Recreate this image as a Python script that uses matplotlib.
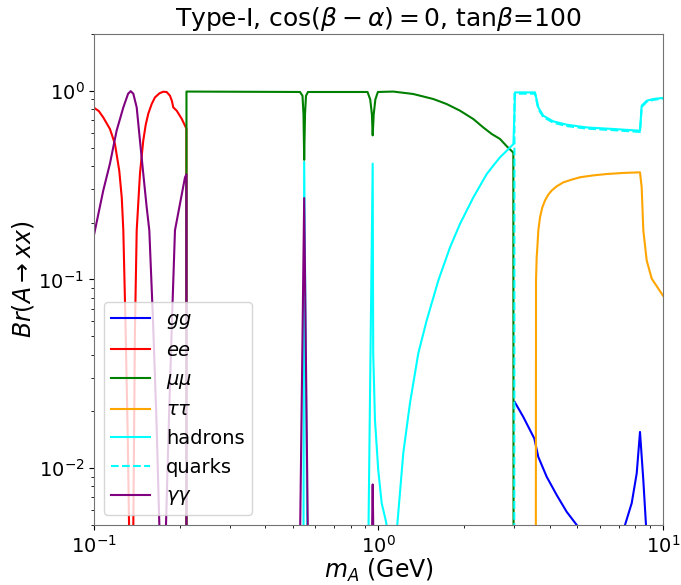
import numpy as np
import matplotlib
matplotlib.use("Agg")
import matplotlib.pyplot as plt

# ---- data ----
m_ee = [0.1, 0.1040, 0.1078, 0.1138, 0.1185, 0.1227, 0.1252, 0.1268, 0.1290, 0.1315, 0.1349,
        0.1375, 0.1393, 0.1413, 0.1451, 0.1490, 0.1520, 0.1552, 0.1595, 0.1638, 0.1700,
        0.1752, 0.1800, 0.1850, 0.1880, 0.1900,
        0.1953, 0.2033, 0.2089, 0.2113, 0.2114]
br_ee = [0.813, 0.78, 0.722, 0.627, 0.522, 0.377, 0.272, 0.182, 0.06, 0.014, 0.001,
         0.005, 0.054, 0.182, 0.364, 0.544, 0.66, 0.756, 0.85, 0.922, 0.97,
         0.988, 0.985, 0.941, 0.88, 0.816,
         0.784, 0.711, 0.653, 0.63, 1e-5]

m_yy = [0.1, 0.1078, 0.1138, 0.1201, 0.1268, 0.1318, 0.1346, 0.1375, 0.1413, 0.1451,
        0.1490, 0.1532, 0.1565, 0.1612, 0.1658, 0.1748, 0.1791, 0.1834, 0.1880, 0.1926,
        0.2006, 0.2089, 0.2113, 0.2114,
        0.5298, 0.5480, 0.5650,
        0.9480, 0.9540, 0.9600]
br_yy = [0.172, 0.296, 0.411, 0.614, 0.816, 0.964, 0.995, 0.964, 0.816, 0.544,
         0.364, 0.241, 0.182, 0.061, 0.018, 0.001, 0.005, 0.018, 0.061, 0.182,
         0.252, 0.348, 0.36, 1e-5,
         0.004, 0.27, 0.004,
         0.004, 0.0082, 0.004]

m_mumu = [0.2113, 0.2114, 0.5298, 0.5406, 0.5450, 0.5480, 0.5517, 0.5561, 0.5650,
          0.915, 0.935, 0.948, 0.954, 0.962, 0.975, 0.995, 1.127, 1.325, 1.558,
          1.737, 1.934, 2.154, 2.335, 2.500, 2.674, 2.823, 2.978, 2.990]
br_mumu = [1e-5, 0.99, 0.985, 0.94, 0.75, 0.43, 0.75, 0.94, 0.985,
           0.985, 0.9, 0.75, 0.58, 0.75, 0.9, 0.985, 0.99, 0.961, 0.904,
           0.85, 0.784, 0.708, 0.639, 0.59, 0.555, 0.508, 0.47, 1e-5]

m_tautau = [3.570, 3.578, 3.597, 3.617, 3.645, 3.696, 3.765, 3.847, 3.953, 4.062,
            4.231, 4.463, 4.776, 5.109, 5.689, 6.340, 7.254, 8.300,
            8.414, 8.526, 8.763, 9.126, 10.0]
br_tautau = [0.001, 0.099, 0.131, 0.148, 0.1816, 0.2136, 0.241, 0.262, 0.2817, 0.296,
             0.3117, 0.327, 0.338, 0.348, 0.356, 0.362, 0.3668, 0.3695,
             0.308, 0.182, 0.126, 0.101, 0.082]

m_had = [0.545, 0.548, 0.562,
         0.921, 0.954, 0.958, 0.972, 0.998, 1.026, 1.063, 1.110, 1.164,
         1.222, 1.290, 1.380, 1.477, 1.623, 1.784, 1.934, 2.154, 2.401, 2.568,
         2.674, 2.823, 2.980, 3.020, 3.549, 3.645, 3.796, 4.116, 4.586, 5.394,
         6.688, 8.300, 8.414, 8.763, 9.246, 10.0]
br_had = [0.004, 0.42, 0.004,
          0.004, 0.411, 0.0406, 0.0179, 0.00976, 0.00653, 0.0052, 0.0035, 0.005,
          0.012, 0.0221, 0.0406, 0.0607, 0.0988, 0.148, 0.197, 0.272, 0.362, 0.412,
          0.444, 0.481, 0.522, 0.98, 0.98, 0.816, 0.737, 0.688, 0.661, 0.639,
          0.627, 0.614, 0.833, 0.885, 0.904, 0.916]

m_quarks = [3.0, 3.005, 3.549, 3.645, 3.796, 4.116, 4.586, 5.394, 6.688, 8.300,
            8.414, 8.763, 9.246, 10.0]
br_quarks = [0.001, 0.965, 0.965, 0.80, 0.725, 0.677, 0.65, 0.63, 0.618, 0.605,
             0.82, 0.875, 0.895, 0.908]

m_gg = [3.01, 3.228, 3.529, 3.645, 3.901, 4.231, 4.586, 4.974, 5.300,
        7.100, 7.352, 7.762, 8.083, 8.300, 8.526, 8.712, 8.900]
br_gg = [0.02244, 0.01868, 0.01436, 0.01147, 0.009, 0.0072, 0.00587, 0.005, 0.0042,
         0.0044, 0.005, 0.00653, 0.0094, 0.01556, 0.00864, 0.005, 0.004]

# ---- figure ----
fig = plt.figure(figsize=(6.81, 5.85), dpi=100)
ax = fig.add_axes([0.138, 0.1026, 0.8356, 0.8394])

ax.plot(m_gg, br_gg, color="blue", lw=1.5, label="$gg$")
ax.plot(m_ee, br_ee, color="red", lw=1.5, label="$ee$")
ax.plot(m_mumu, br_mumu, color="green", lw=1.5, label=r"$\mu\mu$")
ax.plot(m_tautau, br_tautau, color="orange", lw=1.5, label=r"$\tau\tau$")
ax.plot(m_had, br_had, color="cyan", lw=1.5, label="hadrons")
ax.plot(m_quarks, br_quarks, color="cyan", lw=1.5, ls="--", label="quarks")
ax.plot(m_yy, br_yy, color="purple", lw=1.5, label=r"$\gamma\gamma$")

ax.set_xscale("log")
ax.set_yscale("log")
ax.set_xlim(0.1, 10)
ax.set_ylim(0.005, 2)

ax.set_title(r"Type-I, $\cos(\beta-\alpha)=0$, tan$\beta$=100", fontsize=18)
ax.set_xlabel(r"$m_A$ (GeV)", fontsize=17, labelpad=0.5)
ax.set_ylabel(r"$Br(A\to xx)$", fontsize=17, labelpad=2)
ax.tick_params(axis="both", which="major", labelsize=14)

for s in ax.spines.values():
    s.set_color("0.45")

ax.legend(loc="lower left", fontsize=14)

fig.savefig("out.png", dpi=100)
